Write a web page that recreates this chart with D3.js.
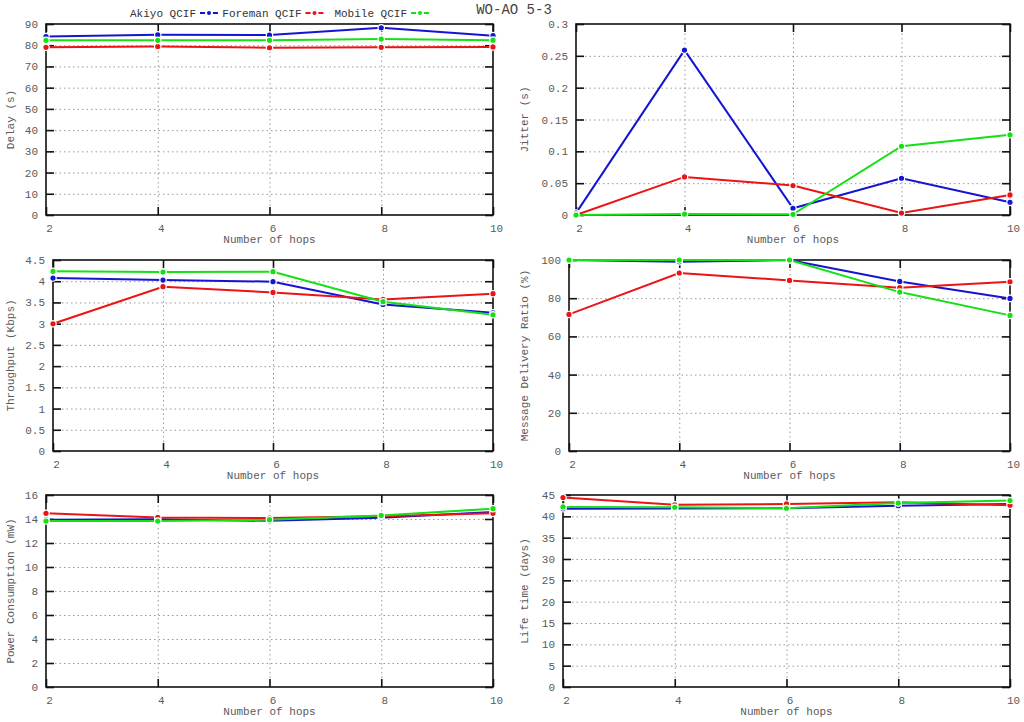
<!DOCTYPE html>
<html>
<head>
<meta charset="utf-8">
<script src="https://cdn.jsdelivr.net/npm/d3@7"></script>
<style>
  body { margin: 0; background: #fff; }
  text { font-family: "Liberation Mono", "DejaVu Sans Mono", monospace; }
</style>
</head>
<body>
<div class="canva"></div>
<script>
// hops on the x axis, shared by all six panels
const hops = [2, 4, 6, 8, 10];
const seriesNames = ["Akiyo QCIF", "Foreman QCIF", "Mobile QCIF"];
const seriesColors = ["#1414d2", "#ea1414", "#14e014"];

// values: [Akiyo, Foreman, Mobile]
const delayAkiyo = [84.1, 84.9, 84.8, 88.2, 84.5];
const delayForeman = [79.0, 79.4, 78.8, 79.0, 79.2];
const delayMobile = [82.3, 82.3, 82.3, 82.9, 82.4];

const jitterAkiyo = [0.003, 0.259, 0.0105, 0.0577, 0.020];
const jitterForeman = [0.0, 0.0598, 0.0462, 0.003, 0.0315];
const jitterMobile = [0.0, 0.0015, 0.001, 0.108, 0.126];

const throughputAkiyo = [4.075, 4.028, 3.99, 3.454, 3.257];
const throughputForeman = [2.998, 3.871, 3.737, 3.572, 3.706];
const throughputMobile = [4.233, 4.217, 4.225, 3.517, 3.21];

const mdrAkiyo = [100, 99.1, 100, 88.8, 79.9];
const mdrForeman = [71.5, 93.2, 89.3, 85.5, 88.6];
const mdrMobile = [100, 100, 100, 83.2, 71.0];

const powerAkiyo = [13.94, 13.97, 13.85, 14.1, 14.58];
const powerForeman = [14.47, 14.13, 14.08, 14.22, 14.47];
const powerMobile = [13.83, 13.83, 13.94, 14.3, 14.86];

const lifeAkiyo = [41.8, 41.85, 41.9, 42.5, 42.9];
const lifeForeman = [44.4, 42.7, 42.9, 43.3, 42.6];
const lifeMobile = [42.2, 42.1, 41.9, 43.1, 43.7];

// y tick labels for each panel
const delayTicks = [0, 10, 20, 30, 40, 50, 60, 70, 80, 90];
const jitterTicks = [0, 0.05, 0.1, 0.15, 0.2, 0.25, 0.3];
const throughputTicks = [0, 0.5, 1, 1.5, 2, 2.5, 3, 3.5, 4, 4.5];
const mdrTicks = [0, 20, 40, 60, 80, 100];
const powerTicks = [0, 2, 4, 6, 8, 10, 12, 14, 16];
const lifeTicks = [0, 5, 10, 15, 20, 25, 30, 35, 40, 45];

const W = 1024, H = 722;
const svg = d3.select(".canva").append("svg")
  .attr("width", W)
  .attr("height", H);

// panel frames (layout only)
const panels = [
  {box: [46, 493, 24, 215], labelX: 10, yLabel: "Delay (s)", ticks: delayTicks,
   series: [delayAkiyo, delayForeman, delayMobile]},
  {box: [576, 1010, 24, 215], labelX: 524, yLabel: "Jitter (s)", ticks: jitterTicks,
   series: [jitterAkiyo, jitterForeman, jitterMobile]},
  {box: [53, 493, 260, 451], labelX: 10, yLabel: "Throughput (Kbps)", ticks: throughputTicks,
   series: [throughputAkiyo, throughputForeman, throughputMobile]},
  {box: [569, 1010, 260, 451], labelX: 524, yLabel: "Message Delivery Ratio (%)", ticks: mdrTicks,
   series: [mdrAkiyo, mdrForeman, mdrMobile]},
  {box: [46, 493, 495, 687], labelX: 10, yLabel: "Power Consumption (mW)", ticks: powerTicks,
   series: [powerAkiyo, powerForeman, powerMobile]},
  {box: [563, 1010, 495, 687], labelX: 524, yLabel: "Life time (days)", ticks: lifeTicks,
   series: [lifeAkiyo, lifeForeman, lifeMobile]}
];

const fmt = d => String(+d.toFixed(2));
const textColor = "#5a5a5a";

panels.forEach(p => {
  const [l, r, t, b] = p.box;
  const x = d3.scaleLinear().domain([hops[0], hops[hops.length - 1]]).range([l, r]);
  const y = d3.scaleLinear().domain([0, p.ticks[p.ticks.length - 1]]).range([b, t]);
  const g = svg.append("g");

  // dotted grid
  g.append("g")
    .attr("transform", `translate(${l},0)`)
    .call(d3.axisLeft(y).tickValues(p.ticks.slice(1, -1)).tickSize(-(r - l)).tickFormat(""))
    .call(s => s.select(".domain").remove())
    .selectAll("line").attr("stroke", "#999").attr("stroke-dasharray", "1.5,3");
  g.append("g")
    .attr("transform", `translate(0,${b})`)
    .call(d3.axisBottom(x).tickValues(hops.slice(1, -1)).tickSize(-(b - t)).tickFormat(""))
    .call(s => s.select(".domain").remove())
    .selectAll("line").attr("stroke", "#999").attr("stroke-dasharray", "1.5,3");

  // inward ticks on all four sides
  const left = g.append("g").attr("transform", `translate(${l},0)`)
    .call(d3.axisLeft(y).tickValues(p.ticks).tickSize(-8).tickPadding(8).tickFormat(fmt));
  g.append("g").attr("transform", `translate(${r},0)`)
    .call(d3.axisRight(y).tickValues(p.ticks).tickSize(-8).tickFormat(""));
  const bottom = g.append("g").attr("transform", `translate(0,${b})`)
    .call(d3.axisBottom(x).tickValues(hops).tickSize(-8).tickPadding(9).tickFormat(d3.format("d")));
  g.append("g").attr("transform", `translate(0,${t})`)
    .call(d3.axisTop(x).tickValues(hops).tickSize(-8).tickFormat(""));
  g.selectAll(".domain").remove();
  g.selectAll(".tick line").filter(function() { return !this.getAttribute("stroke-dasharray"); })
    .attr("stroke", "#111").attr("stroke-width", 1.6);
  left.selectAll("text").attr("fill", textColor).attr("font-size", 11);
  bottom.selectAll("text").attr("fill", textColor).attr("font-size", 11).attr("dx", 3);

  // frame
  g.append("rect")
    .attr("x", l).attr("y", t).attr("width", r - l).attr("height", b - t)
    .attr("fill", "none").attr("stroke", "#111").attr("stroke-width", 1.6);

  // series
  const line = d3.line().x((d, i) => x(hops[i])).y(d => y(d));
  p.series.forEach((vals, si) => {
    g.append("path")
      .datum(vals)
      .attr("d", line)
      .attr("fill", "none")
      .attr("stroke", seriesColors[si])
      .attr("stroke-width", 2);
    g.selectAll(null)
      .data(vals)
      .enter().append("circle")
      .attr("cx", (d, i) => x(hops[i]))
      .attr("cy", d => y(d))
      .attr("r", 3.2)
      .attr("fill", seriesColors[si])
      .attr("stroke", "#fff")
      .attr("stroke-width", 1.2);
  });

  // axis titles
  g.append("text")
    .attr("x", (l + r) / 2).attr("y", b + 28)
    .attr("text-anchor", "middle").attr("font-size", 11).attr("fill", textColor)
    .text("Number of hops");
  g.append("text")
    .attr("transform", `translate(${p.labelX},${(t + b) / 2}) rotate(-90)`)
    .attr("text-anchor", "middle").attr("dy", "0.35em")
    .attr("font-size", 11).attr("fill", textColor)
    .text(p.yLabel);
});

// figure title
svg.append("text")
  .attr("x", 514).attr("y", 14)
  .attr("text-anchor", "middle").attr("font-size", 14).attr("fill", "#444")
  .text("WO-AO 5-3");

// legend: label then line sample with a dot
const legend = svg.append("g");
seriesNames.forEach((name, i) => {
  const sx = 200 + i * 105.5;
  legend.append("text")
    .attr("x", sx - 4).attr("y", 17)
    .attr("text-anchor", "end").attr("font-size", 11).attr("fill", "#333")
    .text(name);
  legend.append("line")
    .attr("x1", sx).attr("x2", sx + 18).attr("y1", 13).attr("y2", 13)
    .attr("stroke", seriesColors[i]).attr("stroke-width", 2);
  legend.append("circle")
    .attr("cx", sx + 9).attr("cy", 13).attr("r", 3)
    .attr("fill", seriesColors[i])
    .attr("stroke", "#fff").attr("stroke-width", 2);
});
</script>
</body>
</html>
